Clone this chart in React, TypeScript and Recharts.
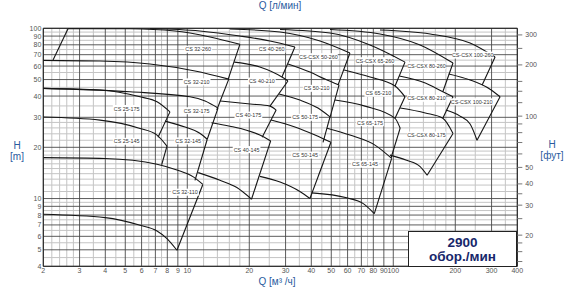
import React from "react";
import { ComposedChart, XAxis, YAxis, Line, CartesianGrid, ReferenceArea, Scatter } from "recharts";

// bottom axis, m3/h
const qTicks = [2, 3, 4, 5, 6, 7, 8, 9, 10, 20, 30, 40, 50, 60, 70, 80, 90, 100, 200, 300, 400];
const qMinor = [2.2, 2.4, 2.6, 2.8, 3.5, 4.5, 5.5, 6.5, 7.5, 12, 14, 16, 18, 25, 35, 45, 55, 65, 75, 120, 140, 160, 180, 250, 350];
// left axis, m
const hTicks = [4, 5, 6, 7, 8, 9, 10, 20, 30, 40, 50, 60, 70, 80, 90, 100];
const hMinor = [4.5, 5.5, 6.5, 7.5, 8.5, 9.5, 11, 12, 13, 14, 15, 16, 17, 18, 19, 22, 24, 26, 28, 35, 45, 55, 65, 75, 85, 95];
// top axis, l/min
const lpmTicks = [35, 40, 45, 50, 60, 70, 80, 90, 100, 150, 200, 300, 400, 500, 600, 700, 800, 900, 1000, 1500, 2000, 3000, 4000, 5000, 6000];
const lpmLabels = [40, 50, 100, 200, 300, 400, 500, 1000, 2000, 3000, 4000, 5000];
// right axis, ft
const ftTicks = [14, 16, 18, 20, 25, 30, 35, 40, 50, 60, 70, 80, 90, 100, 120, 140, 160, 200, 250, 300];
const ftLabels = [20, 30, 40, 50, 100, 200, 300];

// pump curves [Q m3/h, H m]
const cs32_260_left = [[2.23, 65.1], [2.64, 99.6]];
const cs32_260_top = [[2.64, 99.6], [5.27, 99.3], [8.72, 96.4], [12.9, 88.9], [18.0, 80.5]];
const cs32_260_right = [[18.0, 80.5], [15.8, 50.3]];
const cs32_210_top = [[2, 64.8], [3.77, 64.2], [6.59, 61.7], [10.9, 56.1], [15.9, 50.3]];
const cs32_210_right = [[15.9, 50.3], [13.9, 33.1]];
const cs32_175_top = [[2, 44.4], [5.27, 42.4], [10.3, 39.6], [12.2, 37.4], [14.1, 34.0]];
const cs32_175_right = [[14.1, 34.0], [12.5, 22.3]];
const cs25_175_top = [[2, 44.4], [3.77, 43.4], [5.9, 39.6], [7.13, 37.0], [8.24, 32.3]];
const cs25_175_right = [[8.24, 32.3], [7.21, 22.9]];
const cs25_145_top = [[2, 30.1], [3.77, 28.9], [5.9, 25.8], [7.13, 23.6], [7.97, 20.3]];
const cs25_145_right = [[7.97, 20.3], [7.51, 15.8]];
const cs32_145_top = [[7.8, 28.5], [9.75, 26.3], [11.5, 24.2], [12.5, 22.3]];
const cs32_145_right = [[12.5, 22.3], [10.9, 12.8]];
const cs32_110_top = [[2, 17.4], [3.99, 17.2], [7.13, 15.9], [8.91, 14.7], [10.7, 13.4], [11.9, 12.1]];
const cs32_110_right = [[11.9, 12.1], [8.91, 4.97]];
const cs32_110_bottom = [[2, 8.09], [3.99, 7.73], [5.9, 6.97], [7.13, 6.45], [7.97, 5.82], [8.91, 4.97]];

const cs40_260_top = [[6.59, 99.7], [11.5, 96.4], [18.0, 90.1], [25.2, 84.2], [33.3, 77.6]];
const cs40_260_right = [[33.3, 77.6], [28.8, 51.7]];
const cs40_210_top = [[16.9, 63.3], [22.5, 59.2], [28.8, 51.7], [30.8, 49.0]];
const cs40_210_right = [[30.8, 49.0], [25.2, 34.9]];
const cs40_175_top = [[14.4, 37.4], [20.2, 35.9], [25.2, 34.9], [27.0, 33.1]];
const cs40_175_right = [[27.0, 33.1], [23.1, 22.9]];
const cs40_145_top = [[13.1, 27.9], [16.1, 26.6], [19.4, 25.2], [22.5, 23.6], [25.4, 21.8]];
const cs40_145_right = [[25.4, 21.8], [20.5, 9.91]];
const cs40_145_bottom = [[11.3, 14.2], [14.4, 12.8], [17.4, 11.6], [20.5, 9.91]];

const cs50_260_top = [[16.1, 99.1], [28.2, 95.1], [44.1, 84.2], [61.6, 71.6]];
const cs50_260_right = [[61.6, 71.6], [53.9, 46.4]];
const cs50_210_top = [[30.8, 61.7], [39.4, 55.3], [46.6, 50.3], [54.5, 46.4]];
const cs50_210_right = [[54.5, 46.4], [49.3, 30.0]];
const cs50_175_top = [[27.9, 41.1], [35.2, 37.9], [43.1, 34.0], [49.3, 30.2]];
const cs50_175_right = [[49.3, 30.2], [45.6, 21.4]];
const cs50_145_top = [[25.5, 28.9], [33.3, 26.3], [41.7, 23.6], [49.8, 21.4]];
const cs50_145_right = [[49.8, 21.4], [39.4, 10.0]];
const cs50_145_bottom = [[22.5, 13.5], [28.2, 12.5], [35.2, 11.0], [39.4, 10.0]];

const cs65_260_top = [[28.2, 98.4], [49.3, 93.8], [77.1, 79.8], [114, 63.3]];
const cs65_260_right = [[114, 63.3], [102, 45.8]];
const cs65_210_top = [[57.7, 56.9], [77.1, 51.7], [102, 45.8], [114, 39.6]];
const cs65_210_right = [[114, 39.6], [102, 29.6]];
const cs65_175_top = [[52.1, 37.9], [72.9, 34.9], [102, 29.6], [108, 25.9]];
const cs65_175_right = [[108, 25.9], [97.5, 17.3]];
const cs65_145_top = [[47.7, 25.9], [61.6, 23.6], [81.5, 20.6], [98.2, 17.2]];
const cs65_145_right = [[98.2, 17.2], [80.9, 8.16]];
const cs65_145_bottom = [[40.2, 10.8], [59.4, 10.1], [71.5, 9.34], [80.9, 8.16]];

const cs80_260_top = [[49.3, 98.4], [86.2, 92.6], [135, 79.8], [195, 62.5]];
const cs80_260_right = [[195, 62.5], [174, 42.4]];
const cs80_210_top = [[107, 52.4], [143, 47.7], [174, 42.4], [195, 39.6]];
const cs80_210_right = [[195, 39.6], [174, 29.6]];
const cs80_175_top = [[108, 34.0], [143, 31.8], [174, 29.6], [195, 24.1]];
const cs80_175_right = [[195, 24.1], [146, 13.7]];
const cs80_175_bottom = [[96.4, 18.0], [116, 16.8], [135, 15.4], [146, 13.7]];

const cs100_260_top = [[86.2, 97.7], [151, 92.6], [236, 81.9], [312, 67.8]];
const cs100_260_right = [[312, 67.8], [270, 46.4]];
const cs100_210_top = [[186, 53.9], [236, 49.7], [295, 43.9], [330, 39.6]];
const cs100_210_right = [[330, 39.6], [255, 22.0]];
const cs100_210_bottom = [[180, 33.1], [211, 30.5], [236, 27.4], [255, 22.0]];

const curves = [
  cs32_260_left, cs32_260_top, cs32_260_right, cs32_210_top, cs32_210_right, cs32_175_top, cs32_175_right,
  cs25_175_top, cs25_175_right, cs25_145_top, cs25_145_right, cs32_145_top, cs32_145_right,
  cs32_110_top, cs32_110_right, cs32_110_bottom,
  cs40_260_top, cs40_260_right, cs40_210_top, cs40_210_right, cs40_175_top, cs40_175_right,
  cs40_145_top, cs40_145_right, cs40_145_bottom,
  cs50_260_top, cs50_260_right, cs50_210_top, cs50_210_right, cs50_175_top, cs50_175_right,
  cs50_145_top, cs50_145_right, cs50_145_bottom,
  cs65_260_top, cs65_260_right, cs65_210_top, cs65_210_right, cs65_175_top, cs65_175_right,
  cs65_145_top, cs65_145_right, cs65_145_bottom,
  cs80_260_top, cs80_260_right, cs80_210_top, cs80_210_right, cs80_175_top, cs80_175_right, cs80_175_bottom,
  cs100_260_top, cs100_260_right, cs100_210_top, cs100_210_right, cs100_210_bottom,
];

const modelTags = [
  { name: "CS 32-260", q: 11.3, h: 75.3 },
  { name: "CS 40-260", q: 25.7, h: 75.3 },
  { name: "CS-CSX 50-260", q: 43.3, h: 68.1 },
  { name: "CS-CSX 65-260", q: 81.5, h: 64.5 },
  { name: "CS-CSX 80-260", q: 145, h: 60.3 },
  { name: "CS-CSX 100-260", q: 243, h: 69.6 },
  { name: "CS 32-210", q: 11.1, h: 48.5 },
  { name: "CS 40-210", q: 23.0, h: 49.0 },
  { name: "CS 50-210", q: 42.5, h: 44.4 },
  { name: "CS 65-210", q: 84.6, h: 41.5 },
  { name: "CS-CSX 80-210", q: 145, h: 38.8 },
  { name: "CS-CSX 100-210", q: 240, h: 37.0 },
  { name: "CS 25-175", q: 5.08, h: 33.8 },
  { name: "CS 32-175", q: 11.1, h: 32.8 },
  { name: "CS 40-175", q: 19.8, h: 30.9 },
  { name: "CS 50-175", q: 37.3, h: 30.0 },
  { name: "CS 65-175", q: 77.1, h: 27.9 },
  { name: "CS-CSX 80-175", q: 145, h: 23.6 },
  { name: "CS 25-145", q: 5.08, h: 21.7 },
  { name: "CS 32-145", q: 10.1, h: 21.8 },
  { name: "CS 40-145", q: 19.4, h: 19.4 },
  { name: "CS 50-145", q: 37.3, h: 18.0 },
  { name: "CS 65-145", q: 72.9, h: 15.9 },
  { name: "CS 32-110", q: 9.75, h: 10.9 },
];

const FT = 3.2808;
const tickFont = "Liberation Sans, Arial, sans-serif";
const blue = "#2a5b9e";

const ModelTag = (props: any) => {
  const { cx, cy, payload } = props;
  if (cx == null || cy == null) return null;
  const w = payload.name.length * 2.75 + 3;
  return (
    <g>
      <rect x={cx - w / 2} y={cy - 3.5} width={w} height={7} fill="#fff" stroke="none" />
      <text x={cx} y={cy + 2} textAnchor="middle" fontSize={5.4} fill="#333" stroke="none" fontFamily={tickFont}>
        {payload.name}
      </text>
    </g>
  );
};

export default function App() {
  return (
    <div style={{ position: "absolute", left: 0, top: 0, width: 567, height: 295, background: "#fff" }}>
      <ComposedChart width={567} height={295} margin={{ top: 16.3, right: 19.7, bottom: 18.7, left: 13.3 }}>
        <XAxis xAxisId="q" dataKey="q" type="number" scale="log" domain={[2, 400]} ticks={qTicks} interval={0}
          allowDataOverflow height={10} tickLine={false} axisLine={false} tickSize={0} tickMargin={2}
          tick={{ fontSize: 7, fill: "#555", fontFamily: tickFont }} />
        <XAxis xAxisId="lpm" orientation="top" type="number" scale="log" domain={[100 / 3, 20000 / 3]} ticks={lpmTicks}
          interval={0} allowDataOverflow height={12} axisLine={false} tickSize={5} tickMargin={1}
          tickLine={{ stroke: "#777" }} tickFormatter={(v: number) => (lpmLabels.includes(v) ? String(v) : "")}
          tick={{ fontSize: 7, fill: "#555", fontFamily: tickFont }} />
        <YAxis yAxisId="h" dataKey="h" type="number" scale="log" domain={[4, 100]} ticks={hTicks} interval={0}
          allowDataOverflow width={30} tickLine={false} axisLine={false} tickSize={0} tickMargin={2}
          tick={{ fontSize: 7, fill: "#555", fontFamily: tickFont }} />
        <YAxis yAxisId="ft" orientation="right" type="number" scale="log" domain={[4 * FT, 100 * FT]} ticks={ftTicks}
          interval={0} allowDataOverflow width={30} axisLine={false} tickSize={5} tickMargin={3}
          tickLine={{ stroke: "#777" }} tickFormatter={(v: number) => (ftLabels.includes(v) ? String(v) : "")}
          tick={{ fontSize: 7, fill: "#555", fontFamily: tickFont }} />

        <CartesianGrid xAxisId="q" yAxisId="h" verticalValues={qMinor} horizontalValues={hMinor}
          stroke="#c4c4c4" strokeWidth={1} />
        <CartesianGrid xAxisId="q" yAxisId="h" verticalValues={qTicks} horizontalValues={hTicks}
          stroke="#4a4a4a" strokeWidth={0.9} />

        {curves.map((c, i) => (
          <Line key={"c" + i} data={c.map(([q, h]) => ({ q, h }))} dataKey="h" xAxisId="q" yAxisId="h"
            type={c.length > 2 ? "monotone" : "linear"} stroke="#151515" strokeWidth={1.1}
            dot={false} activeDot={false} isAnimationActive={false} />
        ))}

        <Scatter data={modelTags} dataKey="h" xAxisId="q" yAxisId="h" shape={ModelTag} isAnimationActive={false} />

        <ReferenceArea x1={2} x2={400} y1={4} y2={100} xAxisId="q" yAxisId="h" fill="none" stroke="#222"
          strokeWidth={1} ifOverflow="visible" />
      </ComposedChart>

      <div style={{ position: "absolute", left: 408, top: 230.7, width: 109, height: 36, boxSizing: "border-box",
        border: "1.5px solid #222", background: "#fff", paddingTop: 4.5, textAlign: "center", fontFamily: tickFont,
        fontWeight: "bold", fontSize: 13.5, lineHeight: "14px", color: "#17276b" }}>
        2900<br />обор./мин
      </div>

      <div style={{ position: "absolute", left: 250, top: 0, width: 60, textAlign: "center", fontFamily: tickFont, fontSize: 10, color: blue, whiteSpace: "nowrap" }}>
        Q [л/мин]
      </div>
      <div style={{ position: "absolute", left: 247, top: 276, width: 60, textAlign: "center", fontFamily: tickFont, fontSize: 10, color: blue, whiteSpace: "nowrap" }}>
        Q [м³ /ч]
      </div>
      <div style={{ position: "absolute", left: 2, top: 140, width: 30, textAlign: "center", fontFamily: tickFont, fontSize: 10, lineHeight: "11px", color: blue }}>
        H<br />[m]
      </div>
      <div style={{ position: "absolute", left: 532, top: 139, width: 40, textAlign: "center", fontFamily: tickFont, fontSize: 10, lineHeight: "11px", color: blue }}>
        H<br />[фут]
      </div>
    </div>
  );
}
